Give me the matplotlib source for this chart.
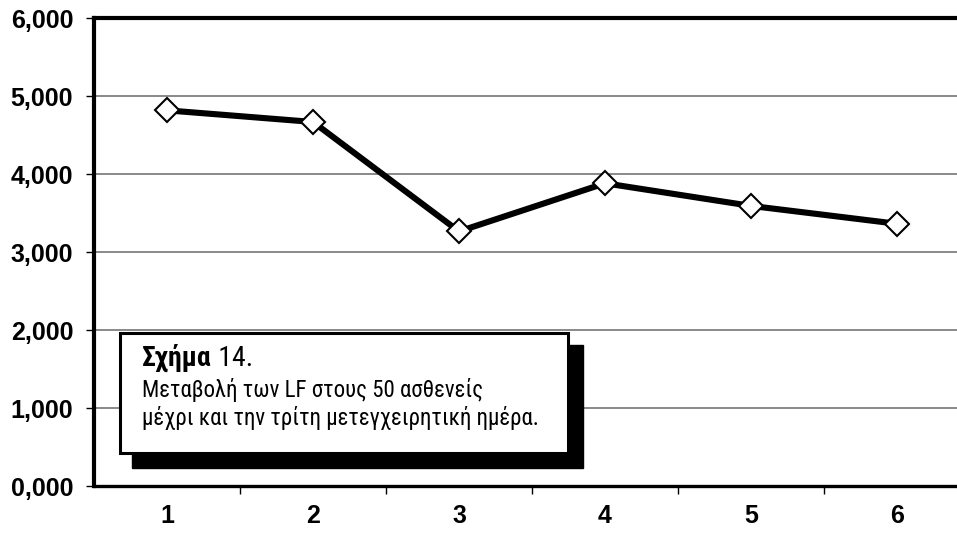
"""LF change over the first postoperative days (50 patients)."""

import matplotlib
matplotlib.use("Agg")
import matplotlib.pyplot as plt
from matplotlib.patches import Rectangle
from matplotlib.text import Annotation
from matplotlib.ticker import FuncFormatter

days = [1, 2, 3, 4, 5, 6]
lf_values = [4.816, 4.667, 3.264, 3.881, 3.591, 3.362]
y_ticks = [0, 1, 2, 3, 4, 5, 6]

caption_title = "Σχήμα"
caption_number = " 14."
caption_lines = [
    "Μεταβολή των LF στους 50 ασθενείς",
    "μέχρι και την τρίτη μετεγχειρητική ημέρα.",
]

W, H = 957, 539
plt.rcParams["font.family"] = ["Liberation Sans", "DejaVu Sans"]
narrow = ["Roboto Condensed", "Liberation Sans", "DejaVu Sans"]

fig = plt.figure(figsize=(W / 100, H / 100), dpi=100)
ax = fig.add_axes([94 / W, 53 / H, 876 / W, 468 / H])

ax.plot(days, lf_values, color="black", lw=4.4, zorder=3,
        marker="D", markersize=12.5, markerfacecolor="white",
        markeredgecolor="black", markeredgewidth=1.5)

ax.set_xlim(0.5, 6.5)
ax.set_ylim(0, 6)

# y axis: grey gridlines, bold labels with comma decimals
ax.set_yticks(y_ticks)
ax.yaxis.set_major_formatter(FuncFormatter(lambda v, _: f"{v:.3f}".replace(".", ",")))
ax.yaxis.grid(True, color="#808080", lw=1.3)
ax.set_axisbelow(True)
ax.tick_params(axis="y", direction="out", length=6, width=1, pad=9,
               labelsize=18)
for lab in ax.get_yticklabels():
    lab.set_fontweight("bold")

# x axis: ticks between categories, labels centred on them
ax.set_xticks([1.5, 2.5, 3.5, 4.5, 5.5])
ax.set_xticklabels([])
ax.tick_params(axis="x", which="major", direction="out", length=6, width=1)
ax.set_xticks(days, minor=True)
ax.set_xticklabels([str(d) for d in days], minor=True,
                   fontsize=18, fontweight="bold")
ax.tick_params(axis="x", which="minor", length=0, pad=13)

for side in ("left", "top"):
    ax.spines[side].set_linewidth(3)
ax.spines["bottom"].set_linewidth(2.4)
ax.spines["right"].set_visible(False)


# caption box with drop shadow
def px_box(x0, y0, x1, y1):
    return (x0 / W, 1 - y1 / H), (x1 - x0) / W, (y1 - y0) / H


xy, w, h = px_box(132, 345, 583, 468)
fig.add_artist(Rectangle(xy, w, h, transform=fig.transFigure,
                         facecolor="black", edgecolor="black", zorder=5))
xy, w, h = px_box(120, 333, 568, 453)
fig.add_artist(Rectangle(xy, w, h, transform=fig.transFigure,
                         facecolor="white", edgecolor="black", lw=2.2, zorder=6))

t1 = fig.text(142 / W, 1 - 366 / H, caption_title, fontsize=20,
              fontweight="bold", family=narrow, va="baseline", zorder=7)
fig.add_artist(Annotation(caption_number, xy=(1, 0), xycoords=t1, va="bottom",
                          fontsize=20, family=narrow, zorder=7,
                          annotation_clip=False))
fig.text(142 / W, 1 - 397 / H, caption_lines[0], fontsize=16.5,
         family=narrow, va="baseline", zorder=7)
fig.text(142 / W, 1 - 425 / H, caption_lines[1], fontsize=16.5,
         family=narrow, va="baseline", zorder=7)

fig.savefig("out.png", dpi=100)
